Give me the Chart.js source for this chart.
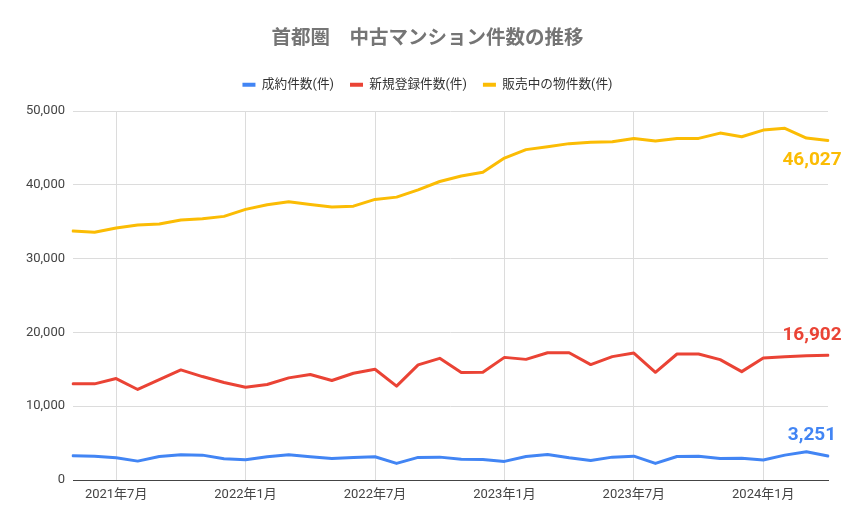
<!DOCTYPE html>
<html>
<head>
<meta charset="utf-8">
<script src="https://cdn.jsdelivr.net/npm/chart.js@4.4.1/dist/chart.umd.min.js"></script>
<style>
html,body{margin:0;padding:0;background:#fff;}
#wrap{width:855px;height:528px;}
</style>
</head>
<body>
<div id="wrap"><canvas id="c" width="855" height="528"></canvas></div>
<script>
const months = [
 '2021年5月','2021年6月','2021年7月','2021年8月','2021年9月','2021年10月','2021年11月','2021年12月',
 '2022年1月','2022年2月','2022年3月','2022年4月','2022年5月','2022年6月','2022年7月','2022年8月',
 '2022年9月','2022年10月','2022年11月','2022年12月',
 '2023年1月','2023年2月','2023年3月','2023年4月','2023年5月','2023年6月','2023年7月','2023年8月',
 '2023年9月','2023年10月','2023年11月','2023年12月',
 '2024年1月','2024年2月','2024年3月','2024年4月'
];
const tickMonths = ['2021年7月','2022年1月','2022年7月','2023年1月','2023年7月','2024年1月'];
const yTicks = [0,10000,20000,30000,40000,50000];

const seriesNames = ['成約件数(件)','新規登録件数(件)','販売中の物件数(件)'];
const contracts = [3280,3230,3010,2560,3190,3420,3370,2880,2740,3150,3420,3150,2920,3060,3150,2250,3060,3100,2810,2790,2520,3190,3460,3010,2650,3100,3230,2250,3190,3230,2920,2960,2700,3370,3820,3251];
const newListings = [13030,13030,13750,12270,13600,14920,14020,13210,12580,12940,13840,14290,13480,14470,15010,12720,15600,16490,14560,14600,16620,16350,17250,17250,15640,16720,17210,14600,17080,17080,16310,14690,16540,16720,16830,16902];
const onSale = [33750,33570,34150,34550,34690,35230,35400,35730,36680,37300,37700,37350,37000,37120,38030,38340,39330,40460,41200,41700,43640,44780,45180,45590,45770,45860,46300,45950,46300,46300,47020,46530,47430,47660,46350,46027];

const FONT = "Roboto, 'Noto Sans CJK JP', sans-serif";
const colors = ['#4285F4','#EA4335','#FBBC04'];
const labelOffsets = [-21, -20, 20];

const lastLabelPlugin = {
  id: 'lastLabel',
  afterDatasetsDraw(chart) {
    const ctx = chart.ctx;
    ctx.save();
    ctx.font = "bold 19px " + FONT;
    ctx.textAlign = 'center';
    ctx.textBaseline = 'middle';
    chart.data.datasets.forEach((ds, i) => {
      const meta = chart.getDatasetMeta(i);
      const pt = meta.data[meta.data.length - 1];
      const v = ds.data[ds.data.length - 1];
      ctx.fillStyle = ds.borderColor;
      ctx.fillText(v.toLocaleString('en-US'), pt.x - 16, pt.y + labelOffsets[i]);
    });
    ctx.restore();
  }
};

const legendSpacePlugin = {
  id: 'legendSpace',
  beforeLayout(chart) {
    const lg = chart.legend;
    if (lg && !lg._extraPatched) {
      const f = lg.fit;
      lg.fit = function () { f.call(this); this.height += 10; };
      lg._extraPatched = true;
    }
  }
};

const mk = (i, data) => ({
  label: seriesNames[i], data,
  borderColor: colors[i], backgroundColor: colors[i],
  borderWidth: 3, pointRadius: 0, pointHoverRadius: 0, tension: 0,
  borderJoinStyle: 'round', borderCapStyle: 'round'
});

new Chart(document.getElementById('c'), {
  type: 'line',
  data: { labels: months, datasets: [mk(0, contracts), mk(1, newListings), mk(2, onSale)] },
  options: {
    responsive: false,
    animation: false,
    devicePixelRatio: 1,
    layout: { padding: 0 },
    plugins: {
      title: {
        display: true,
        text: '首都圏　中古マンション件数の推移',
        color: '#757575',
        font: { family: FONT, size: 19.5, weight: 'bold' },
        padding: { top: 27, bottom: 12 }
      },
      legend: {
        position: 'top',
        labels: {
          color: '#333',
          font: { family: FONT, size: 12.7 },
          boxWidth: 13, boxHeight: 4, padding: 16,
          generateLabels(chart) {
            const items = Chart.defaults.plugins.legend.labels.generateLabels(chart);
            items.forEach(it => { it.lineWidth = 0; });
            return items;
          }
        }
      },
      tooltip: { enabled: false }
    },
    scales: {
      x: {
        type: 'category',
        offset: false,
        border: { display: true, color: '#444', width: 1 },
        grid: {
          drawTicks: false,
          color: (c) => (c.tick && tickMonths.includes(months[c.tick.value]) ? '#dcdcdc' : 'rgba(0,0,0,0)')
        },
        ticks: {
          autoSkip: false, maxRotation: 0, padding: 7,
          color: '#444', font: { family: FONT, size: 13 },
          callback: (v, i) => (tickMonths.includes(months[i]) ? months[i] : '')
        },
        afterFit(s) { s.height = 48; }
      },
      y: {
        min: 0, max: 50000,
        border: { display: false },
        grid: { drawTicks: false, color: '#dcdcdc' },
        afterBuildTicks(s) { s.ticks = yTicks.map(v => ({ value: v })); },
        ticks: {
          padding: 8, color: '#444', font: { family: FONT, size: 13 },
          callback: (v) => v.toLocaleString('en-US')
        },
        afterFit(s) { s.width = 73; }
      },
      yRightSpace: {
        position: 'right',
        display: true,
        grid: { display: false, drawTicks: false },
        border: { display: false },
        ticks: { display: false },
        afterFit(s) { s.width = 27; }
      }
    }
  },
  plugins: [lastLabelPlugin, legendSpacePlugin]
});
</script>
</body>
</html>
